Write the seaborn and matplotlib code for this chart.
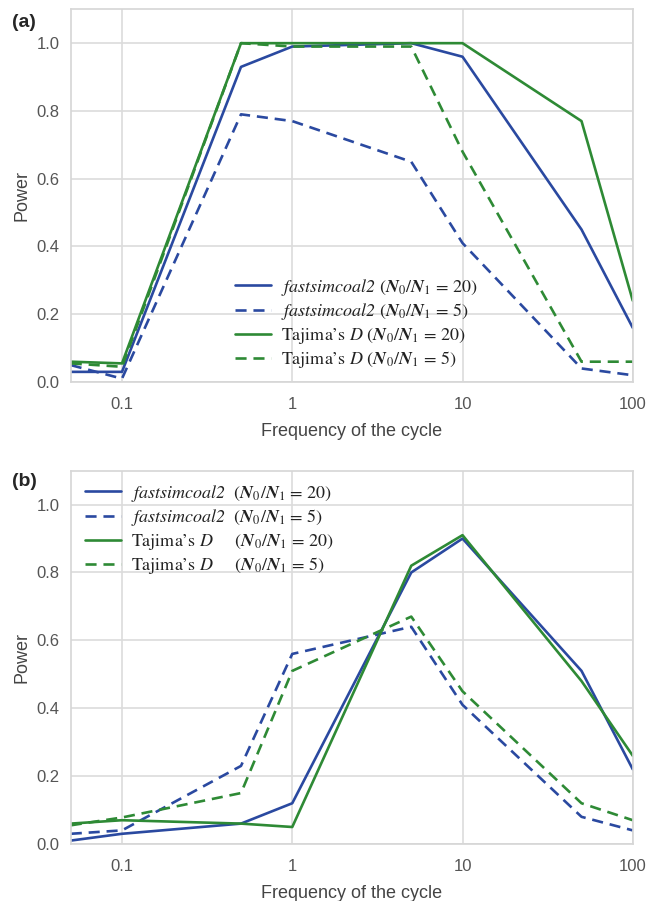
import matplotlib
matplotlib.use("Agg")
import matplotlib.pyplot as plt
from matplotlib.ticker import NullLocator
import seaborn as sns
import pandas as pd

# ---------------- data ----------------
freq = [0.05, 0.1, 0.5, 1, 5, 10, 50, 100]

a_fsc20 = [0.03, 0.03, 0.93, 0.99, 1.00, 0.96, 0.45, 0.16]
a_fsc5 = [0.05, 0.01, 0.79, 0.77, 0.65, 0.41, 0.04, 0.02]
a_taj20 = [0.06, 0.055, 1.00, 1.00, 1.00, 1.00, 0.77, 0.24]
a_taj5 = [0.055, 0.045, 1.00, 0.99, 0.99, 0.68, 0.06, 0.06]

b_fsc20 = [0.01, 0.03, 0.06, 0.12, 0.80, 0.90, 0.51, 0.22]
b_fsc5 = [0.03, 0.04, 0.23, 0.56, 0.64, 0.41, 0.08, 0.04]
b_taj20 = [0.06, 0.07, 0.06, 0.05, 0.82, 0.91, 0.48, 0.26]
b_taj5 = [0.055, 0.078, 0.15, 0.51, 0.67, 0.45, 0.12, 0.07]

xticks = [0.1, 1, 10, 100]
xticklabels = ["0.1", "1", "10", "100"]
yticks = [0.0, 0.2, 0.4, 0.6, 0.8, 1.0]

ratio = r"($\mathbfit{N}_0/\mathbfit{N}_1$ = %s)"
labels_a = [
    r"$\mathsf{fastsimcoal2}$ " + ratio % "20",
    r"$\mathsf{fastsimcoal2}$ " + ratio % "5",
    r"Tajima’s $\mathsf{D}$ " + ratio % "20",
    r"Tajima’s $\mathsf{D}$ " + ratio % "5",
]
labels_b = [
    r"$\mathsf{fastsimcoal2}$  " + ratio % "20",
    r"$\mathsf{fastsimcoal2}$  " + ratio % "5",
    r"Tajima’s $\mathsf{D}$     " + ratio % "20",
    r"Tajima’s $\mathsf{D}$     " + ratio % "5",
]

# ---------------- style ----------------
sns.set_theme(style="whitegrid")
plt.rcParams["font.family"] = ["Liberation Sans", "DejaVu Sans"]
plt.rcParams["mathtext.fontset"] = "custom"
plt.rcParams["mathtext.rm"] = "STIXGeneral"
plt.rcParams["mathtext.it"] = "STIXGeneral:italic"
plt.rcParams["mathtext.sf"] = "STIXGeneral:italic"
plt.rcParams["mathtext.bf"] = "STIXGeneral:bold"
plt.rcParams["mathtext.bfit"] = "STIXGeneral:italic:bold"
plt.rcParams["axes.edgecolor"] = "#d6d6d6"
plt.rcParams["grid.color"] = "#dcdcdc"
plt.rcParams["grid.linewidth"] = 1.2
plt.rcParams["axes.linewidth"] = 1.2

BLUE = "#2a49a0"
GREEN = "#2e8a35"
colors = [BLUE, BLUE, GREEN, GREEN]
dashed = [False, True, False, True]

fig = plt.figure(figsize=(6.49, 9.01), dpi=100)
ax_a = fig.add_axes([0.109, 0.576, 0.866, 0.4137])
ax_b = fig.add_axes([0.109, 0.0633, 0.866, 0.4143])


def draw(ax, series, labels, legend_kw):
    for vals, col, dsh, lab in zip(series, colors, dashed, labels):
        df = pd.DataFrame({"freq": freq, "power": vals})
        sns.lineplot(data=df, x="freq", y="power", ax=ax, color=col,
                     linewidth=1.9, label=lab)
        ln = ax.get_lines()[-1]
        if dsh:
            ln.set_dashes((4.2, 2.6))
    ax.set_xscale("log")
    ax.set_xlim(0.05, 100)
    ax.set_ylim(0, 1.1)
    ax.set_xticks(xticks, labels=xticklabels)
    ax.xaxis.set_minor_locator(NullLocator())
    ax.set_yticks(yticks, labels=[f"{v:.1f}" for v in yticks])
    ax.tick_params(labelsize=12, colors="#555555")
    ax.tick_params(axis="x", pad=5)
    ax.tick_params(axis="y", pad=2)
    ax.set_xlabel("Frequency of the cycle", fontsize=13, color="#444444", labelpad=8)
    ax.set_ylabel("Power", fontsize=13, color="#444444", labelpad=4)
    leg = ax.legend(frameon=False, prop={"family": "STIXGeneral", "size": 13},
                    handlelength=2.0, handletextpad=0.55, labelspacing=0.2,
                    borderpad=0, borderaxespad=0, **legend_kw)
    for t in leg.get_texts():
        t.set_color("#222222")


draw(ax_a, [a_fsc20, a_fsc5, a_taj20, a_taj5], labels_a,
     dict(loc="lower left", bbox_to_anchor=(0.292, 0.031)))
draw(ax_b, [b_fsc20, b_fsc5, b_taj20, b_taj5], labels_b,
     dict(loc="upper left", bbox_to_anchor=(0.025, 0.968)))

fig.text(0.018, 0.975, "(a)", fontsize=14, fontweight="bold", va="center", ha="left")
fig.text(0.018, 0.466, "(b)", fontsize=14, fontweight="bold", va="center", ha="left")

fig.savefig("out.png", dpi=100)
